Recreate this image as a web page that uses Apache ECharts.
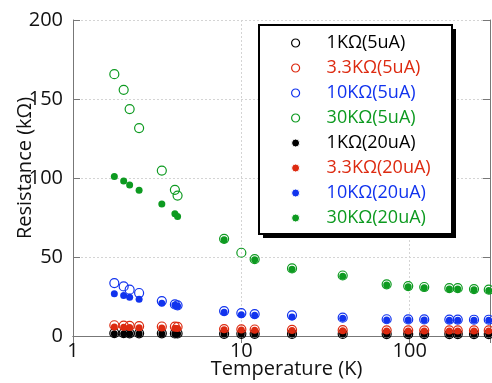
<!DOCTYPE html>
<html>
<head>
<meta charset="utf-8">
<script src="https://cdn.jsdelivr.net/npm/echarts@6/dist/echarts.min.js"></script>
<style>
  html, body { margin: 0; padding: 0; background: #fff; }
  #chart { width: 492px; height: 383px; }
</style>
</head>
<body>
<div id="chart"></div>
<script>
// temperatures (K) shared by all series
const temps = [1.76, 2.0, 2.17, 2.47, 3.37, 4.03, 4.18, 7.9, 10, 12, 20, 40, 73, 98, 122, 172, 193, 241, 295];

// resistance (kOhm), 5uA runs (open circles)
const r1k5 = [1.8, 1.8, 1.7, 1.7, 1.7, 1.6, 1.6, 1.4, 1.4, 1.4, 1.3, 1.3, 1.2, 1.2, 1.2, 1.2, 1.2, 1.2, 1.2];
const r33k5 = [6.8, 6.6, 6.4, 6.2, 6.0, 5.9, 5.8, 4.4, 4.2, 4.1, 3.9, 3.7, 3.6, 3.6, 3.6, 3.5, 3.5, 3.5, 3.5];
const r10k5 = [33.5, 31.4, 29.3, 27.2, 22.1, 20.0, 19.4, 15.8, 14.5, 13.9, 13.1, 11.6, 10.6, 10.5, 10.5, 10.4, 10.4, 10.3, 10.3];
const r30k5 = [165.7, 155.8, 143.6, 131.6, 104.7, 92.5, 88.9, 61.5, 52.7, 48.6, 42.8, 38.3, 32.7, 31.6, 31.0, 30.3, 30.3, 29.7, 29.3];

// resistance (kOhm), 20uA runs (filled dots)
const r1k20 = [1.4, 1.4, 1.4, 1.4, 1.4, 1.4, 1.4, 1.3, 1.3, 1.3, 1.2, 1.2, 1.1, 1.1, 1.1, 1.1, 1.1, 1.1, 1.1];
const r33k20 = [5.7, 5.5, 5.4, 5.2, 5.0, 4.9, 4.8, 3.9, 3.8, 3.7, 3.5, 3.3, 3.2, 3.2, 3.2, 3.1, 3.1, 3.1, 3.1];
const r10k20 = [26.8, 25.7, 24.6, 23.2, 20.8, 19.6, 19.0, 15.0, 13.5, 13.1, 12.0, 11.2, 10.2, 10.1, 10.1, 10.0, 10.0, 9.9, 9.9];
const r30k20 = [100.9, 98.1, 95.6, 92.2, 83.6, 77.3, 75.6, 60.9, null, 48.2, 42.3, 37.8, 32.2, 31.1, 30.5, 29.8, 29.8, 29.2, 28.8];

const xTicks = [1, 10, 100];
const yTicks = [0, 50, 100, 150, 200];

const names = ['1KΩ(5uA)', '3.3KΩ(5uA)', '10KΩ(5uA)', '30KΩ(5uA)',
  '1KΩ(20uA)', '3.3KΩ(20uA)', '10KΩ(20uA)', '30KΩ(20uA)'];
const colors = ['#000000', '#dd2a10', '#1133ee', '#0d9a20'];

const font = '"Open Sans", sans-serif';

function pairs(vals) {
  const out = [];
  temps.forEach((t, i) => {
    if (vals[i] != null) out.push([t, vals[i]]);
  });
  return out;
}

const openSets = [r1k5, r33k5, r10k5, r30k5];
const filledSets = [r1k20, r33k20, r10k20, r30k20];

const series = [];
openSets.forEach((vals, i) => {
  series.push({
    name: names[i],
    type: 'scatter',
    symbol: 'circle',
    symbolSize: 9,
    data: pairs(vals),
    itemStyle: { color: 'rgba(255,255,255,0)', borderColor: colors[i], borderWidth: 1.2, opacity: 1 },
    z: 2,
  });
});
filledSets.forEach((vals, i) => {
  series.push({
    name: names[i + 4],
    type: 'scatter',
    symbol: 'circle',
    symbolSize: 7,
    data: pairs(vals),
    itemStyle: { color: colors[i], opacity: 1 },
    z: 3,
  });
});

const chart = echarts.init(document.getElementById('chart'));

const axisLine = { show: true, lineStyle: { color: '#777', width: 1 } };
const tick = { show: true, inside: true, length: 7, lineStyle: { color: '#777' } };
const grid = { show: true, lineStyle: { color: '#d4d4d4', type: [2, 2], width: 1 } };

chart.setOption({
  animation: false,
  backgroundColor: '#fff',
  grid: { left: 73, right: 2, top: 20, bottom: 47, outerBoundsMode: 'none', containLabel: false },
  xAxis: [
    {
      type: 'log',
      logBase: 10,
      min: xTicks[0],
      max: 300,
      position: 'bottom',
      axisLine: axisLine,
      axisTick: tick,
      splitLine: grid,
      axisLabel: {
        color: '#111', fontSize: 20, fontFamily: font, margin: 5,
        formatter: (v) => (xTicks.includes(Math.round(v)) ? String(Math.round(v)) : ''),
      },
      name: 'Temperature (K)',
      nameLocation: 'middle',
      nameGap: 23,
      nameMoveOverlap: false,
      nameTextStyle: { color: '#111', fontSize: 20, fontFamily: font, padding: [0, 0, 0, 10] },
    },
    {
      type: 'log',
      logBase: 10,
      min: xTicks[0],
      max: 300,
      position: 'top',
      axisLine: axisLine,
      axisTick: tick,
      axisLabel: { show: false },
      splitLine: { show: false },
    },
  ],
  yAxis: [
    {
      type: 'value',
      min: yTicks[0],
      max: yTicks[yTicks.length - 1],
      interval: 50,
      axisLine: axisLine,
      axisTick: tick,
      splitLine: grid,
      axisLabel: { color: '#111', fontSize: 20, fontFamily: font, margin: 10 },
      name: 'Resistance (kΩ)',
      nameLocation: 'middle',
      nameGap: 38,
      nameMoveOverlap: false,
      nameTextStyle: { color: '#111', fontSize: 20, fontFamily: font, padding: [0, 0, 0, 20] },
    },
    {
      type: 'value',
      min: yTicks[0],
      max: yTicks[yTicks.length - 1],
      interval: 50,
      position: 'right',
      axisLine: axisLine,
      axisTick: tick,
      axisLabel: { show: false },
      splitLine: { show: false },
    },
  ],
  graphic: [
    {
      // legend box: solid offset shadow, then white box with black border
      type: 'rect',
      z: 3,
      shape: { x: 263, y: 29, width: 193, height: 209 },
      style: { fill: '#000' },
    },
    {
      type: 'rect',
      z: 3,
      shape: { x: 259, y: 25, width: 193, height: 209 },
      style: { fill: '#fff', stroke: '#000', lineWidth: 2 },
    },
  ],
  legend: {
    orient: 'vertical',
    left: 291,
    top: 30.5,
    padding: 0,
    itemGap: 0,
    itemWidth: 8,
    itemHeight: 8,
    selectedMode: false,
    z: 5,
    data: names.map((n, i) => ({
      name: n,
      icon: 'circle',
      itemStyle: i < 4
        ? { color: 'rgba(255,255,255,0)', borderColor: colors[i], borderWidth: 1.2 }
        : { color: colors[i - 4], borderColor: '#fff', borderWidth: 1 },
      textStyle: { color: colors[i % 4] },
    })),
    textStyle: { fontSize: 18, fontFamily: font, lineHeight: 25, padding: [0, 0, 0, 22] },
  },
  series: series,
});
</script>
</body>
</html>
